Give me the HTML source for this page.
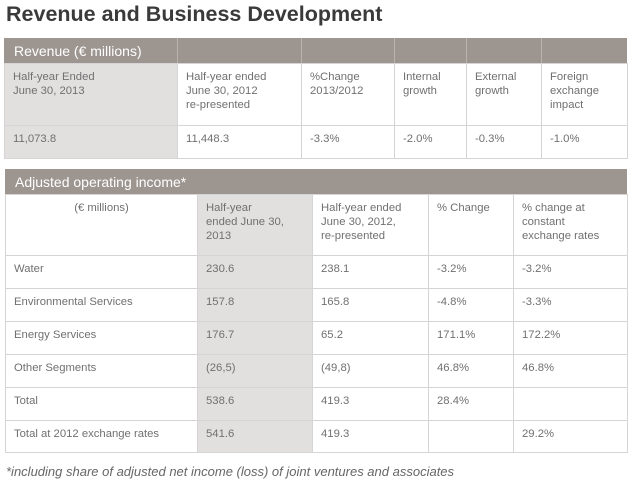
<!DOCTYPE html>
<html><head><meta charset="utf-8">
<style>
*{margin:0;padding:0;box-sizing:border-box}
body{width:640px;height:492px;background:#fff;font-family:"Liberation Sans",sans-serif;color:#707070;position:relative;overflow:hidden}
.title{position:absolute;left:6px;top:2px;font-size:21.5px;font-weight:bold;color:#3a3a3a}
.hdr{position:absolute;background:#9d9590;color:#fff;font-size:14px;padding:5px 0 0 10px}
.c{position:absolute;border:1px solid #d6d4d4;font-size:11.3px;line-height:14px;padding:6px 8px;color:#707070}
.g{background:#e2dfdf}
.foot{position:absolute;left:6px;top:464px;font-size:13px;font-style:italic;color:#666}
</style></head><body>
<div class="title">Revenue and Business Development</div>
<div id="t1"></div>
<div id="t2"></div>
<div class="foot">*including share of adjusted net income (loss) of joint ventures and associates</div>
<script>
const t1Cols=[4,177,301,394,466,541,627];
const t1Rows=[63,125,158];
const t1Head=["Half-year Ended<br>June 30, 2013","Half-year ended<br>June 30, 2012<br>re-presented","%Change<br>2013/2012","Internal<br>growth","External<br>growth","Foreign<br>exchange<br>impact"];
const t1Vals=["11,073.8","11,448.3","-3.3%","-2.0%","-0.3%","-1.0%"];
const t2Cols=[5,197,312,428,513,627];
const t2Rows=[194,255,288,321,354,387,420,452];
const t2Head=["(€ millions)","Half-year<br>ended June 30,<br>2013","Half-year ended<br>June 30, 2012,<br>re-presented","% Change","% change at<br>constant<br>exchange rates"];
const t2Data=[
["Water","230.6","238.1","-3.2%","-3.2%"],
["Environmental Services","157.8","165.8","-4.8%","-3.3%"],
["Energy Services","176.7","65.2","171.1%","172.2%"],
["Other Segments","(26,5)","(49,8)","46.8%","46.8%"],
["Total","538.6","419.3","28.4%",""],
["Total at 2012 exchange rates","541.6","419.3","","29.2%"]];
function cell(parent,x,y,w,h,html,gray,center){
  const d=document.createElement('div');
  d.className='c'+(gray?' g':'');
  d.style.left=x+'px';d.style.top=y+'px';d.style.width=(w+1)+'px';d.style.height=(h+1)+'px';
  if(center)d.style.textAlign='center';
  d.innerHTML=html;
  
  
  parent.appendChild(d);
}
function hdr(parent,x,y,w,h,txt){
  const d=document.createElement('div');
  d.className='hdr';d.style.left=x+'px';d.style.top=y+'px';d.style.width=w+'px';d.style.height=h+'px';
  d.textContent=txt;
  
  
  parent.appendChild(d);
}
const p1=document.getElementById('t1');
hdr(p1,4,38,623,25,"Revenue (€ millions)");
for(let i=1;i<t1Cols.length-1;i++){const s=document.createElement('div');s.style.cssText='position:absolute;top:38px;height:25px;width:1px;background:#b9b3af;left:'+t1Cols[i]+'px';p1.appendChild(s);}
for(let i=0;i<6;i++){
  const x=t1Cols[i],w=t1Cols[i+1]-x;
  cell(p1,x,t1Rows[0],w,t1Rows[1]-t1Rows[0],t1Head[i],i==0);
  cell(p1,x,t1Rows[1],w,t1Rows[2]-t1Rows[1],t1Vals[i],i==0);
}
const p2=document.getElementById('t2');
hdr(p2,5,169,622,25,"Adjusted operating income*");
for(let i=0;i<5;i++){
  const x=t2Cols[i],w=t2Cols[i+1]-x;
  cell(p2,x,t2Rows[0],w,t2Rows[1]-t2Rows[0],t2Head[i],i==1,i==0);
  for(let r=0;r<t2Data.length;r++){
    cell(p2,x,t2Rows[r+1],w,t2Rows[r+2]-t2Rows[r+1],t2Data[r][i],i==1);
  }
}
</script>
</body></html>
